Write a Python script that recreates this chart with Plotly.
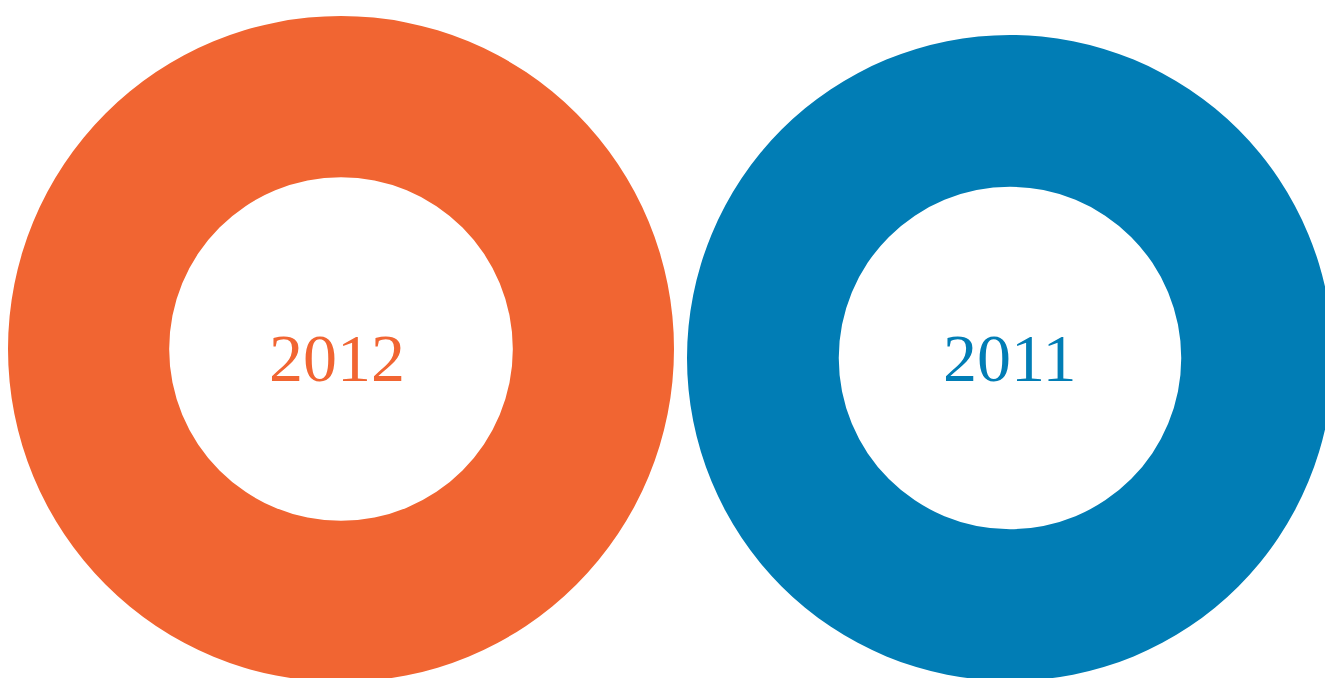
import plotly.graph_objects as go

# Data
years = ["2012", "2011"]
values_2012 = [100]
values_2011 = [100]
colors = ["#F16532", "#017DB5"]

W, H = 1340, 690

def dom(cx, cy, r):
    # cx, cy measured from top-left in pixels
    x0, x1 = (cx - r) / W, (cx + r) / W
    y0, y1 = (H - (cy + r)) / H, (H - (cy - r)) / H
    return dict(x=[max(0, x0), min(1, x1)], y=[max(0, y0), min(1, y1)])

fig = go.Figure()
fig.add_trace(go.Pie(
    labels=[years[0]], values=values_2012, hole=0.516,
    marker=dict(colors=[colors[0]], line=dict(width=0)),
    textinfo="none", hoverinfo="label", sort=False,
    domain=dom(341, 349, 333), showlegend=False,
))
fig.add_trace(go.Pie(
    labels=[years[1]], values=values_2011, hole=0.53,
    marker=dict(colors=[colors[1]], line=dict(width=0)),
    textinfo="none", hoverinfo="label", sort=False,
    domain=dom(1010, 358, 323), showlegend=False,
))

for yr, col, cx, cy in [(years[0], colors[0], 337, 358), (years[1], colors[1], 1009, 358)]:
    fig.add_annotation(
        text=yr, x=cx / W, y=(H - cy) / H, xref="paper", yref="paper",
        xanchor="center", yanchor="middle", showarrow=False,
        font=dict(family="Liberation Serif, DejaVu Serif, serif", size=68, color=col),
    )

fig.update_layout(
    width=W, height=H, autosize=False,
    margin=dict(l=0, r=0, t=0, b=0, pad=0),
    paper_bgcolor="white", plot_bgcolor="white",
)

fig.write_html("out.html", config={"displayModeBar": False},
               post_script="document.body.style.overflow='hidden';document.body.style.margin='0';")
